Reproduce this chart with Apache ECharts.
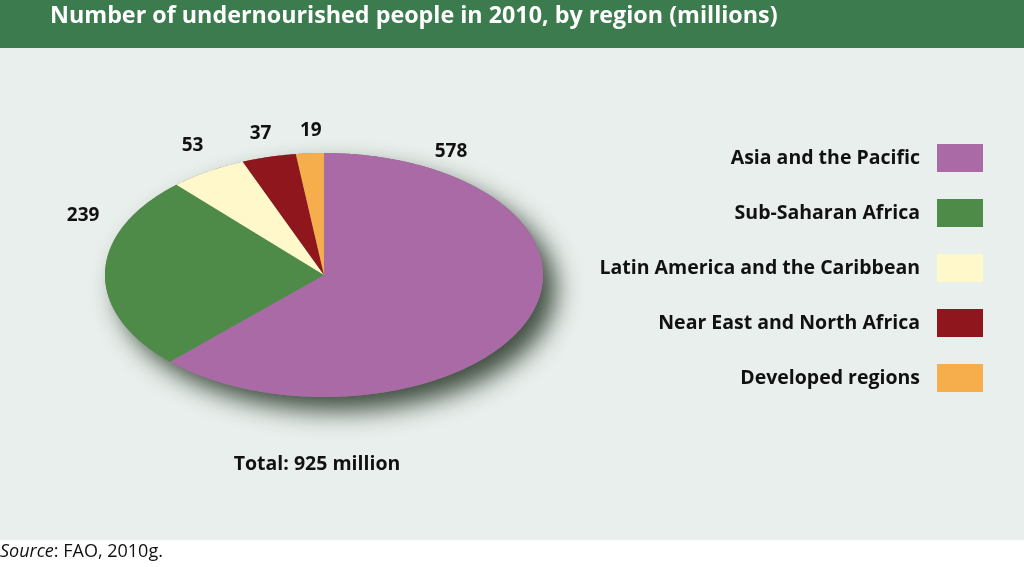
<!DOCTYPE html>
<html>
<head>
<meta charset="utf-8">
<script src="https://cdn.jsdelivr.net/npm/echarts@6/dist/echarts.min.js"></script>
<style>
  html, body { margin: 0; padding: 0; background: #ffffff; }
  #chart { width: 1024px; height: 567px; }
</style>
</head>
<body>
<div id="chart"></div>
<script>
// ---- data ----
const categories = ['Asia and the Pacific', 'Sub-Saharan Africa', 'Latin America and the Caribbean', 'Near East and North Africa', 'Developed regions'];
const values = [578, 239, 53, 37, 19];
const titleText = 'Number of undernourished people in 2010, by region (millions)';
const totalText = 'Total: 925 million';
const sourceText = 'FAO, 2010g.';

// ---- style / layout ----
const colors = ['#a96aa5', '#4e8b48', '#fef8cb', '#8e161c', '#f6ae4c'];
const labelSpots = [[0.58, 1.01], [-1.10, 0.49], [-0.60, 1.06], [-0.29, 1.16], [-0.06, 1.18]];
const FONT = '"Open Sans", "Noto Sans", sans-serif';

const total = values.reduce((a, b) => a + b, 0);
const starts = [];
values.reduce((acc, v, i) => { starts[i] = acc; return acc + v; }, 0);

function arcPoints(api, a0, a1) {
  const pts = [];
  const n = Math.max(2, Math.ceil((a1 - a0) / (Math.PI / 360)));
  for (let k = 0; k <= n; k++) {
    const t = a0 + (a1 - a0) * k / n;
    pts.push(api.coord([Math.sin(t), Math.cos(t)]));
  }
  return pts;
}

const series = [];
// shadow under the pie
series.push({
  type: 'custom',
  name: '__shadow',
  z: 1,
  silent: true,
  data: [[0, 0]],
  renderItem: function (params, api) {
    return {
      type: 'polygon',
      shape: { points: arcPoints(api, 0, Math.PI * 2) },
      style: {
        fill: '#7a857a',
        shadowBlur: 24,
        shadowColor: 'rgba(35,50,35,0.85)',
        shadowOffsetX: 13,
        shadowOffsetY: 14
      }
    };
  }
});

categories.forEach(function (name, i) {
  series.push({
    type: 'custom',
    name: name,
    z: 2,
    itemStyle: { color: colors[i] },
    data: [[0, values[i]]],
    renderItem: function (params, api) {
      const v = api.value(1);
      const a0 = starts[i] / total * Math.PI * 2;
      const a1 = (starts[i] + v) / total * Math.PI * 2;
      const pts = [api.coord([0, 0])].concat(arcPoints(api, a0, a1));
      const lp = api.coord(labelSpots[i]);
      return {
        type: 'group',
        children: [
          { type: 'polygon', shape: { points: pts }, style: { fill: colors[i] } },
          {
            type: 'text', x: lp[0], y: lp[1],
            style: {
              text: String(v), fill: '#111111', fontSize: 19, fontWeight: 'bold',
              fontFamily: FONT, align: 'center', verticalAlign: 'middle'
            }
          }
        ]
      };
    }
  });
});

const chart = echarts.init(document.getElementById('chart'), null, { renderer: 'canvas' });
chart.setOption({
  animation: false,
  backgroundColor: '#ffffff',
  grid: { left: 105, top: 153, width: 438, height: 244 },
  xAxis: { type: 'value', min: -1, max: 1, show: false },
  yAxis: { type: 'value', min: -1, max: 1, show: false },
  legend: {
    data: categories,
    orient: 'vertical',
    align: 'right',
    right: 36,
    top: 139,
    itemWidth: 46,
    itemHeight: 28,
    itemGap: 27,
    icon: 'rect',
    selectedMode: false,
    textStyle: { color: '#111111', fontSize: 19.5, fontWeight: 'bold', fontFamily: FONT, padding: [0, 12, 0, 0] }
  },
  graphic: [
    { type: 'rect', z: -10, shape: { x: 0, y: 48, width: 1024, height: 492 }, style: { fill: '#e9efec' } },
    { type: 'rect', z: -10, shape: { x: 0, y: 0, width: 1024, height: 48 }, style: { fill: '#3b7b4d' } },
    {
      type: 'text', x: 50, y: 16,
      style: { text: titleText, fill: '#ffffff', fontSize: 23.3, fontWeight: 'bold', fontFamily: FONT, verticalAlign: 'middle' }
    },
    {
      type: 'text', x: 317, y: 464,
      style: { text: totalText, fill: '#111111', fontSize: 19.5, fontWeight: 'bold', fontFamily: FONT, align: 'center', verticalAlign: 'middle' }
    },
    {
      type: 'text', x: 0, y: 552,
      style: {
        text: '{i|Source}: ' + sourceText,
        fill: '#111111', fontSize: 18, fontFamily: FONT, verticalAlign: 'middle',
        rich: { i: { fontStyle: 'italic', fontSize: 18, fontFamily: FONT, fill: '#111111' } }
      }
    }
  ],
  series: series
});
</script>
</body>
</html>
